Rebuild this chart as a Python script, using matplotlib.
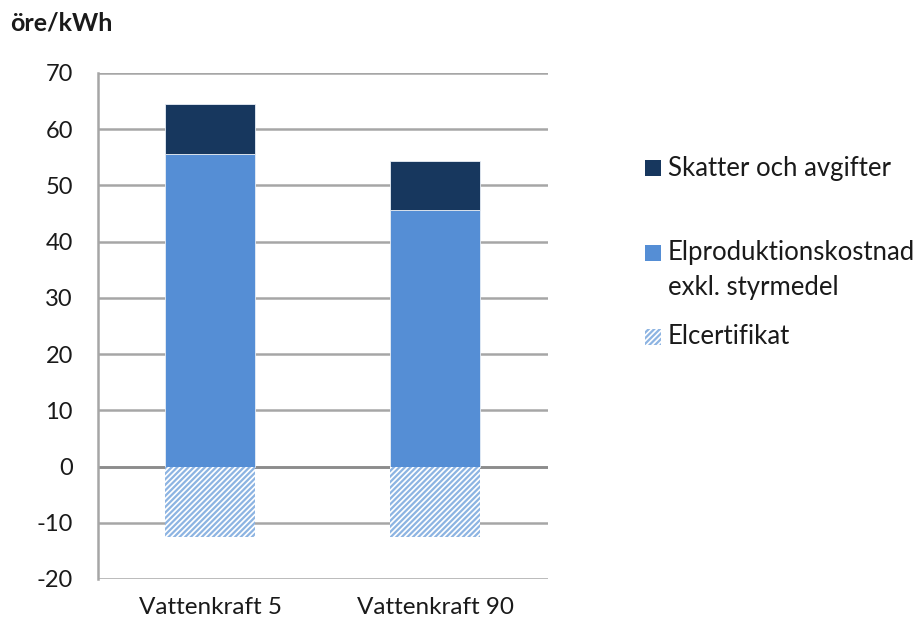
import numpy as np
import matplotlib.pyplot as plt
from matplotlib.patches import Rectangle

# costs per power type, öre/kWh
categories = ["Vattenkraft 5", "Vattenkraft 90"]
produktion = [55.6, 45.6]
skatter = [8.9, 8.8]
elcert = [-12.6, -12.6]

tick_vals = np.arange(-20, 71, 10)

dark = "#17375E"
light = "#558ED5"
hatch_col = "#8DB4E2"
text_col = "#1a1a1a"

plt.rcParams["font.family"] = ["Lato", "DejaVu Sans"]
plt.rcParams["hatch.linewidth"] = 1.6
plt.rcParams["axes.unicode_minus"] = False

fig = plt.figure(figsize=(9.22, 6.27), dpi=100)
ax = fig.add_axes([0.1063, 0.0766, 0.488, 0.807])

x = np.arange(len(categories))
w = 0.4

ax.bar(x, produktion, w, color=light, edgecolor="#E8EEF6", linewidth=0.6, zorder=3)
ax.bar(x, skatter, w, bottom=produktion, color=dark, edgecolor="#E8EEF6", linewidth=0.6, zorder=3)
ax.bar(x, elcert, w, color="white", edgecolor=hatch_col, hatch="//////", linewidth=0, zorder=3)

ax.set_xlim(-0.5, 1.5)
ax.set_ylim(-20, 70)
ax.set_yticks(tick_vals)
ax.set_xticks(x)
ax.set_xticklabels(categories)
ax.tick_params(axis="both", length=0, labelsize=17, colors=text_col)
ax.tick_params(axis="x", labelsize=17.5, pad=13)
ax.tick_params(axis="y", pad=18)

ax.yaxis.grid(True, color="#A6A6A6", linewidth=1.8, zorder=0)
for s in ["top", "right", "bottom"]:
    ax.spines[s].set_visible(False)
ax.spines["left"].set_color("#A6A6A6")
ax.spines["left"].set_linewidth(1.8)
ax.axhline(0, color="#8C8C8C", linewidth=2, zorder=2)

fig.text(0.011, 0.963, "öre/kWh", fontsize=18, fontweight="bold", color=text_col,
         ha="left", va="center")

# legend drawn by hand so the square sits beside the first line of a two-line label
W, H = fig.get_size_inches() * fig.dpi
legend_items = [
    (dict(facecolor=dark, edgecolor="none"), "Skatter och avgifter", 168),
    (dict(facecolor=light, edgecolor="none"), "Elproduktionskostnad", 253),
    (None, "exkl. styrmedel", 287),
    (dict(facecolor="white", edgecolor=hatch_col, hatch="//////", linewidth=0), "Elcertifikat", 337),
]
sq = 16
for style, label, yc in legend_items:
    if style is not None:
        fig.add_artist(Rectangle((645 / W, 1 - (yc + sq / 2) / H), sq / W, sq / H,
                                 transform=fig.transFigure, **style))
    fig.text(668 / W, 1 - yc / H, label, fontsize=18.5, color=text_col,
             ha="left", va="center")

fig.savefig("out.png", dpi=100)
plt.close(fig)
